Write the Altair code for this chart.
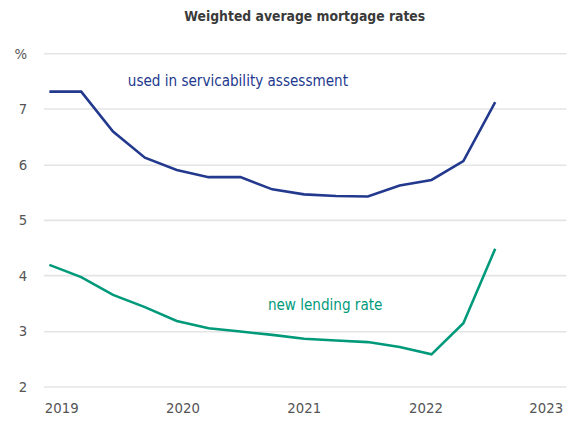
import altair as alt
import pandas as pd

# quarterly observations, 2019Q1 .. 2022Q3
quarters = [2019 + i / 4 for i in range(15)]
serviceability = [7.31, 7.31, 6.59, 6.12, 5.90, 5.77, 5.77, 5.55, 5.46, 5.43, 5.42, 5.62, 5.72, 6.06, 7.12]
new_lending = [4.19, 3.97, 3.65, 3.43, 3.18, 3.05, 2.99, 2.93, 2.86, 2.83, 2.80, 2.71, 2.58, 3.14, 4.48]

series_names = ["used in servicability assessment", "new lending rate"]
series_colors = ["#22398e", "#009a7b"]

year_ticks = [2019.093, 2020.045, 2020.997, 2021.953, 2022.897]
y_ticks = [2, 3, 4, 5, 6, 7, 8]

label_x = [2020.48, 2021.165]
label_y = [7.42, 3.38]

FONT = "'DejaVu Sans Condensed', Roboto, sans-serif"

df = pd.DataFrame({
    "t": quarters * 2,
    "rate": serviceability + new_lending,
    "series": [series_names[0]] * 15 + [series_names[1]] * 15,
})
labels = pd.DataFrame({"t": label_x, "rate": label_y, "series": series_names})

color = alt.Color("series:N", scale=alt.Scale(domain=series_names, range=series_colors), legend=None)
xs = alt.Scale(domain=[2018.954, 2023.056], nice=False, zero=False)
ys = alt.Scale(domain=[2, 8], nice=False, zero=False)

lines = alt.Chart(df).mark_line(strokeWidth=2.6, clip=True).encode(
    x=alt.X("t:Q", scale=xs, title=None,
            axis=alt.Axis(values=year_ticks, labelExpr="'' + round(datum.value)", grid=False,
                          ticks=False, domain=False, labelPadding=14, labelFontSize=15,
                          labelColor="#555555", labelFont=FONT)),
    y=alt.Y("rate:Q", scale=ys, title=None,
            axis=alt.Axis(values=y_ticks, labelExpr="datum.value == 8 ? '%' : format(datum.value, 'd')",
                          grid=True, gridColor="#e4e4e4", gridWidth=1.6, ticks=False, domain=False,
                          labelPadding=17, labelFontSize=15, labelColor="#555555", labelFont=FONT)),
    color=color,
)

texts = alt.Chart(labels).mark_text(fontSize=15.3, font=FONT, baseline="alphabetic", align="center").encode(
    x=alt.X("t:Q", scale=xs),
    y=alt.Y("rate:Q", scale=ys),
    text="series:N",
    color=color,
)

chart = (lines + texts).properties(
    width=530,
    height=338,
    title=alt.TitleParams("Weighted average mortgage rates", fontSize=14, fontWeight="bold",
                          font=FONT, color="#3a3a3a", offset=23, anchor="middle"),
    autosize=alt.AutoSizeParams(type="none"),
    padding={"left": 36, "top": 43, "right": 2, "bottom": 30},
).configure_view(stroke=None)

chart.save("out.html", embed_options={"renderer": "svg", "actions": False})
